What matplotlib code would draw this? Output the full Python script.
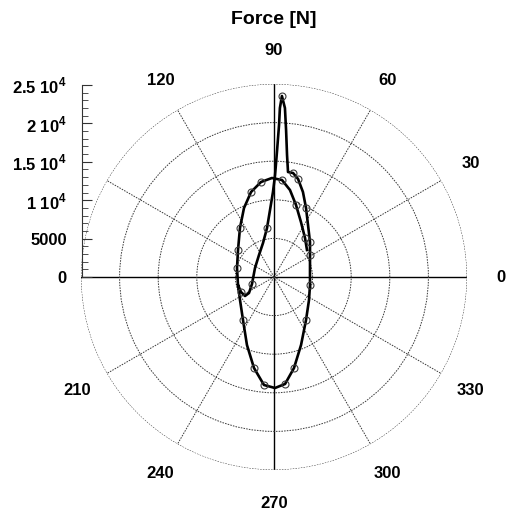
import numpy as np
import matplotlib.pyplot as plt
from matplotlib.ticker import MultipleLocator, FixedLocator, FixedFormatter

plt.rcParams['font.family'] = ['Liberation Sans', 'DejaVu Sans']
plt.rcParams['mathtext.fontset'] = 'custom'
plt.rcParams['mathtext.rm'] = 'Liberation Sans:bold'
plt.rcParams['mathtext.bf'] = 'Liberation Sans:bold'

# Bearing load polar diagram: direction (deg) and magnitude (N) along the cycle
angle_deg = [192.5, 204.4, 213.2, 212.6, 197.6, 154.7, 124.3, 107.9, 98.1, 93.4,
             90.7, 89.4, 88.6, 88.1, 88.0, 87.5, 86.3, 85.3, 83.9, 82.4,
             79.6, 76.2, 71.2, 65.1, 56.8, 44.2, 31.4, 11.0, -12.5, -33.3,
             -53.3, -68.3, -77.6, -84.1, -89.5, -95.3, -102.4, -111.7, -125.8, -145.9,
             -167.5, 166.3, 143.1, 124.8, 113.5, 105.1, 97.8, 91.2, 85.3, 79.6,
             73.0, 63.9, 51.5, 39.3]
force_n = [4777, 4695, 4491, 3845, 2991, 2723, 3449, 4629, 6412, 8694,
           11011, 13213, 16455, 19699, 21905, 23468, 21937, 19104, 15892, 13721,
           13694, 13069, 11633, 9852, 8048, 6504, 5465, 4750, 4777, 5425,
           6943, 9477, 12069, 13932, 14378, 14049, 12069, 9477, 6866, 5317,
           4777, 4932, 5829, 7725, 9746, 11406, 12420, 12826, 12607, 11458,
           9752, 7936, 6453, 5523]
# samples that carry a measurement marker
marker_idx = [1, 4, 8, 15, 20, 21, 23, 25, 26, 28, 30, 32, 33, 35, 36, 38,
              41, 42, 43, 45, 46, 48, 50, 52]

ring_values = [5000, 10000, 15000, 20000, 25000]
spoke_angles = [0, 30, 60, 90, 120, 150, 180, 210, 240, 270, 300, 330]
angle_labels = [0, 30, 60, 90, 120, 210, 240, 270, 300, 330]
radial_ticks = [0, 5000, 10000, 15000, 20000, 25000]
radial_labels = ['0', '5000', r'1 10$^{4}$', r'1.5 10$^{4}$', r'2 10$^{4}$', r'2.5 10$^{4}$']

fig = plt.figure(figsize=(5.10, 5.13), dpi=100)
ax = fig.add_axes([81 / 510, 43 / 513, 386 / 510, 386 / 513], projection='polar')

theta = np.unwrap(np.radians(angle_deg))
ax.plot(theta, force_n, color='black', lw=1.9, zorder=3,
        marker='o', markevery=marker_idx, ms=5, mfc='none', mec='#3a3a3a', mew=0.8)

ax.set_ylim(0, 25000)
ax.set_yticks(ring_values)
ax.set_yticklabels([])
ax.set_xticks(np.radians(spoke_angles))
ax.set_xticklabels([])
ax.set_axisbelow(True)
ax.grid(True, color='#3a3a3a', lw=0.7, ls=(0, (1.6, 1.2)))
for gl, a in zip(ax.xaxis.get_gridlines(), spoke_angles):
    if a % 90 == 0:
        gl.set_linestyle('-')
        gl.set_color('black')
        gl.set_linewidth(1.0)
ax.spines['polar'].set_visible(False)

for a in angle_labels:
    ax.text(np.radians(a), 29400, str(a), ha='center', va='center',
            fontsize=12, fontweight='bold', clip_on=False)

# radial scale drawn as a separate vertical axis on the left
ax2 = fig.add_axes([82 / 510, 236 / 513, 0.0001, 192 / 513])
ax2.patch.set_visible(False)
for side in ['right', 'top', 'bottom']:
    ax2.spines[side].set_visible(False)
ax2.spines['left'].set_linestyle((0, (2, 1)))
ax2.spines['left'].set_linewidth(0.8)
ax2.spines['left'].set_color('#333333')
ax2.set_ylim(0, 25000)
ax2.set_xticks([])
ax2.yaxis.set_major_locator(FixedLocator(radial_ticks))
ax2.yaxis.set_major_formatter(FixedFormatter(radial_labels))
ax2.yaxis.set_minor_locator(MultipleLocator(1000))
ax2.tick_params(axis='y', which='major', direction='in', length=7, width=0.8,
                pad=11, labelsize=12, color='#333333')
ax2.tick_params(axis='y', which='minor', direction='in', length=4, width=0.6,
                color='#333333')
for lbl in ax2.get_yticklabels():
    lbl.set_fontweight('bold')

fig.text(274 / 510, 1 - 20 / 513, 'Force [N]', ha='center', va='center',
         fontsize=14, fontweight='bold')

fig.savefig('out.png', dpi=100)
